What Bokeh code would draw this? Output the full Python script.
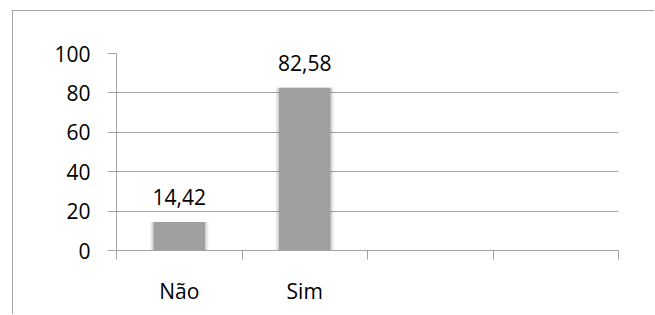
from bokeh.plotting import figure
from bokeh.models import FixedTicker, ColumnDataSource, Range1d
from bokeh.core.properties import value
from bokeh.embed import file_html
from bokeh.resources import INLINE

# ---- data ----
categories = ["Não", "Sim", "", ""]
bar_categories = ["Não", "Sim"]
bar_values = [14.42, 82.58]
y_ticks = [0, 20, 40, 60, 80, 100]

FONT = "Open Sans"
FSIZE = "21px"
GRID = "#a3a3a3"

n = len(categories)
centers = [i + 0.5 for i in range(n)]
bar_x = [categories.index(c) + 0.5 for c in bar_categories]
labels = [f"{v:.2f}".replace(".", ",") for v in bar_values]

src = ColumnDataSource(dict(x=bar_x, top=bar_values, label=labels))

p = figure(width=642, height=304, output_backend="svg", toolbar_location=None,
           x_range=Range1d(0, n), y_range=Range1d(0, 100),
           min_border_left=103, min_border_right=37, min_border_top=42, min_border_bottom=65)
p.margin = (10, 0, 0, 12)
p.styles = {"border-top": "1px solid #a6a6a6", "border-left": "1px solid #a6a6a6"}
p.outline_line_color = None
p.background_fill_color = "white"
p.border_fill_color = "white"

# shadow
for w, a in [(0.47, 0.05), (0.45, 0.08), (0.43, 0.12)]:
    p.vbar(x="x", top="top", bottom=-1.5, width=w, source=src,
           fill_color="#404040", fill_alpha=a, line_color=None)
p.vbar(x="x", top="top", bottom=0, width=0.41, source=src,
       fill_color="#a0a0a0", line_color=None)

p.text(x="x", y="top", text="label", source=src, y_offset=-25,
       text_align="center", text_baseline="alphabetic",
       text_font=value(FONT), text_font_size=FSIZE, text_color="black")

# grid
p.xgrid.visible = False
p.ygrid.ticker = FixedTicker(ticks=y_ticks)
p.ygrid.grid_line_color = GRID
p.ygrid.grid_line_width = 1

# y axis
ya = p.yaxis[0]
ya.ticker = FixedTicker(ticks=y_ticks)
ya.axis_line_color = GRID
ya.major_tick_line_color = GRID
ya.major_tick_out = 9
ya.major_tick_in = 0
ya.minor_tick_line_color = None
ya.major_label_standoff = 17
ya.major_label_text_font = FONT
ya.major_label_text_font_size = FSIZE
ya.major_label_text_color = "black"

# x axis
xa = p.xaxis[0]
xa.ticker = FixedTicker(ticks=centers, minor_ticks=list(range(n + 1)))
xa.major_label_overrides = {c: lab for c, lab in zip(centers, categories)}
xa.axis_line_color = GRID
xa.axis_line_width = 1
xa.major_tick_line_color = None
xa.major_tick_out = 0
xa.major_tick_in = 0
xa.minor_tick_line_color = GRID
xa.minor_tick_out = 9
xa.minor_tick_in = 0
xa.major_label_standoff = 17
xa.major_label_text_font = FONT
xa.major_label_text_font_size = FSIZE
xa.major_label_text_color = "black"

open("out.html", "w").write(file_html(p, INLINE))
